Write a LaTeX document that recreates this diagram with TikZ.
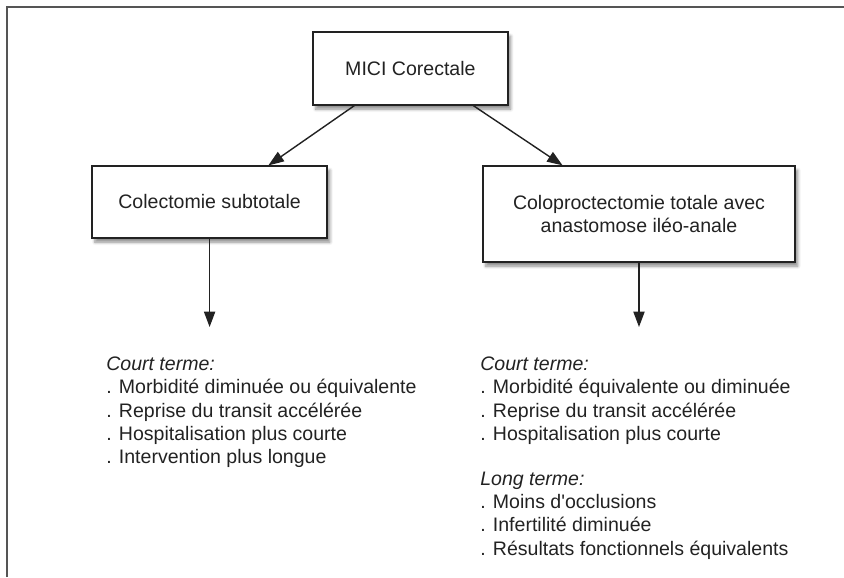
\documentclass[tikz,border=0pt]{standalone}
\usepackage{fontspec}
\setmainfont{Liberation Sans}
\usepackage{xcolor}
\usepackage{tikz}
\usetikzlibrary{arrows.meta, positioning, calc, shadows, shadows.blur}
\definecolor{inkdark}{RGB}{34,34,34}
\definecolor{framegray}{RGB}{85,85,85}
\newcommand{\diafont}{\fontsize{13.9}{16.5}\selectfont}
\tikzset{
  choice/.style={rectangle, draw=inkdark, fill=white, line width=0.9pt,
    align=center, font=\diafont, text=inkdark, inner sep=0pt,
    blur shadow={shadow xshift=2pt, shadow yshift=-3pt,
      shadow blur steps=6, shadow opacity=45}},
  outcome/.style={align=left, anchor=north west, inner sep=0pt,
    font=\diafont, text=inkdark},
  arrow/.style={-{Triangle[length=11pt, width=8pt]}, line width=1pt, color=inkdark},
  frame/.style={line width=1.6pt, color=framegray}
}
\begin{document}
\begin{tikzpicture}
  \useasboundingbox (0,0) rectangle (21.1,-14.425);
  \draw[frame] (0.175,-14.425) -- (0.175,-0.175) -- (21.1,-0.175);

  \node[choice, minimum width=4.875cm, minimum height=1.825cm] (mici) at (10.26,-1.71) {MICI Corectale};
  \node[choice, minimum width=5.875cm, minimum height=1.8cm] (colec) at (5.24,-5.05) {Colectomie subtotale};
  \node[choice, minimum width=7.8cm, minimum height=2.4cm] (colo) at (15.975,-5.35)
    {Coloproctectomie totale avec\\anastomose iléo-anale};

  \coordinate (colecend) at (5.24,-8.175);
  \coordinate (coloend) at (15.975,-8.175);

  % Outcomes
  \node[outcome] (colecres) at (2.65,-8.92)
    {\textit{Court terme:}\\
     . Morbidité diminuée ou équivalente\\
     . Reprise du transit accélérée\\
     . Hospitalisation plus courte\\
     . Intervention plus longue};
  \node[outcome] (colores) at (12.0,-8.92)
    {\textit{Court terme:}\\
     . Morbidité équivalente ou diminuée\\
     . Reprise du transit accélérée\\
     . Hospitalisation plus courte\\[0.55cm]
     \textit{Long terme:}\\
     . Moins d\textquotesingle occlusions\\
     . Infertilité diminuée\\
     . Résultats fonctionnels équivalents};

  % Arrows
  \draw[arrow] ($(mici.south west)!0.215!(mici.south east)$) -- ($(colec.north west)!0.749!(colec.north east)$);
  \draw[arrow] ($(mici.south west)!0.82!(mici.south east)$) -- ($(colo.north west)!0.256!(colo.north east)$);
  \draw[arrow] (colec.south) -- (colecend);
  \draw[arrow] (colo.south) -- (coloend);
\end{tikzpicture}
\end{document}
